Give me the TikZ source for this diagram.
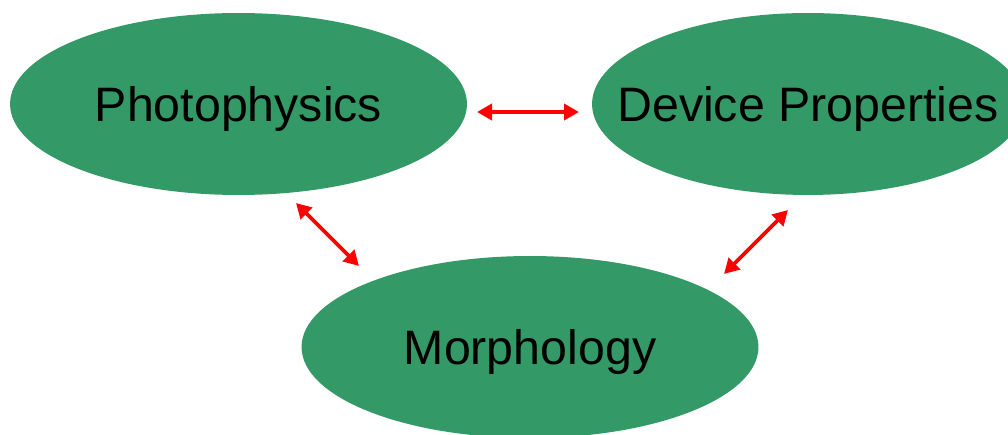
\documentclass[tikz,border=0pt]{standalone}
\usepackage{fontspec}
\setmainfont{Liberation Sans}
\usetikzlibrary{arrows.meta,shapes.geometric}
\definecolor{blobgreen}{RGB}{51,153,102}

\begin{document}
\begin{tikzpicture}[x=0.02cm, y=-0.02cm,
  blob/.style={ellipse, fill=blobgreen, inner sep=0pt, minimum width=9.14cm,
    minimum height=3.64cm, text depth=0pt, font=\fontsize{27.5}{33}\selectfont},
  link/.style={red, line width=2.2pt,
    {Triangle[length=0.3cm,width=0.32cm]}-{Triangle[length=0.3cm,width=0.32cm]}}]
  \useasboundingbox (0,0) rectangle (1008,435);
  \clip (0,0) rectangle (1008,435);

  % the three topics
  \node[blob] (photo) at (238.5,104) {\makebox[0pt]{Photophysics}};
  \node[blob, minimum width=8.64cm] (device) at (808,104) {\makebox[0pt]{Device Properties}};
  \node[blob] (morph) at (530,347) {\makebox[0pt]{Morphology}};

  % arrow ends
  \coordinate (pd-a) at (477,112);
  \coordinate (pd-b) at (579,112);
  \coordinate (pm-a) at (296,203);
  \coordinate (pm-b) at (359,266);
  \coordinate (dm-a) at (788,210);
  \coordinate (dm-b) at (724,274);

  % links
  \draw[link] (pd-a) -- (pd-b);
  \draw[link] (pm-a) -- (pm-b);
  \draw[link] (dm-a) -- (dm-b);
\end{tikzpicture}
\end{document}
